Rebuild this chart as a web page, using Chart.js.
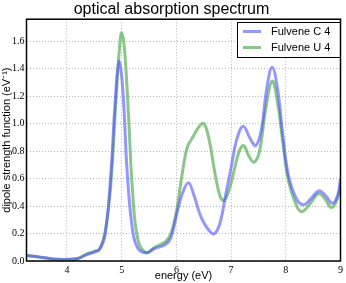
<!DOCTYPE html>
<html>
<head>
<meta charset="utf-8">
<script src="https://cdn.jsdelivr.net/npm/chart.js@4"></script>
<style>
  html, body { margin: 0; padding: 0; background: #fff; }
  #wrap { width: 346px; height: 283px; }
</style>
</head>
<body>
<div id="wrap"><canvas id="spectrum" width="346" height="283"></canvas></div>
<script>
// energies (eV) and dipole strength
const energyC = [3.25, 3.5, 3.75, 4.0, 4.2, 4.35, 4.5, 4.6, 4.7, 4.8, 4.88, 4.95, 5.02, 5.1, 5.2, 5.3, 5.45, 5.6, 5.8, 5.9,
  6.0, 6.1, 6.22, 6.32, 6.45, 6.6, 6.7, 6.8, 6.9, 7.0, 7.1, 7.22, 7.35, 7.45, 7.55, 7.65, 7.75, 7.85, 7.95, 8.05,
  8.2, 8.33, 8.45, 8.6, 8.72, 8.85, 8.95, 9.0];
const fulveneC = [0.040, 0.030, 0.015, 0.012, 0.018, 0.045, 0.065, 0.085, 0.20, 0.62, 1.15, 1.45, 1.25, 0.65, 0.22, 0.09, 0.06, 0.09, 0.12, 0.17,
  0.33, 0.48, 0.57, 0.48, 0.32, 0.22, 0.20, 0.28, 0.48, 0.68, 0.88, 0.98, 0.89, 0.84, 0.95, 1.25, 1.41, 1.25, 0.90, 0.62,
  0.45, 0.41, 0.45, 0.51, 0.48, 0.42, 0.48, 0.60];

const energyU = [3.25, 3.5, 3.75, 4.0, 4.2, 4.35, 4.5, 4.6, 4.7, 4.8, 4.9, 4.97, 5.0, 5.05, 5.12, 5.2, 5.3, 5.45, 5.6, 5.8, 5.9,
  6.0, 6.1, 6.2, 6.3, 6.4, 6.5, 6.6, 6.7, 6.8, 6.87, 6.95, 7.05, 7.15, 7.23, 7.33, 7.42, 7.52, 7.63, 7.75, 7.85, 7.95, 8.05,
  8.2, 8.3, 8.45, 8.6, 8.72, 8.83, 8.93, 9.0];
const fulveneU = [0.040, 0.028, 0.013, 0.010, 0.018, 0.05, 0.07, 0.09, 0.22, 0.55, 1.20, 1.60, 1.66, 1.55, 1.10, 0.50, 0.15, 0.06, 0.10, 0.14, 0.20,
  0.36, 0.62, 0.83, 0.90, 0.97, 1.00, 0.88, 0.65, 0.47, 0.44, 0.50, 0.65, 0.80, 0.84, 0.76, 0.72, 0.80, 1.10, 1.31, 1.15, 0.85, 0.58,
  0.40, 0.36, 0.42, 0.49, 0.45, 0.39, 0.44, 0.55];

const xTicks = [4, 5, 6, 7, 8, 9];
const yTicks = [0.0, 0.2, 0.4, 0.6, 0.8, 1.0, 1.2, 1.4, 1.6];
const seriesNames = ['Fulvene C 4', 'Fulvene U 4'];

const toPoints = (xs, ys) => xs.map((x, i) => ({ x: x, y: ys[i] }));

// legend box drawn like matplotlib's (framed, top right)
const boxLegend = {
  id: 'boxLegend',
  afterDraw(chart) {
    const c = chart.ctx;
    const x0 = 237, y0 = 22, w = 103, h = 35;
    c.save();
    c.fillStyle = '#fff';
    c.fillRect(x0, y0, w, h);
    c.strokeStyle = '#000';
    c.lineWidth = 1;
    c.strokeRect(x0 + 0.5, y0 + 0.5, w, h);
    chart.data.datasets.forEach((ds, i) => {
      const y = y0 + 9.5 + i * 16;
      c.strokeStyle = ds.borderColor;
      c.lineWidth = 3;
      c.beginPath();
      c.moveTo(x0 + 6, y);
      c.lineTo(x0 + 24, y);
      c.stroke();
      c.fillStyle = '#000';
      c.font = '11px "Liberation Sans", Arial, sans-serif';
      c.textBaseline = 'middle';
      c.fillText(ds.label, x0 + 34, y);
    });
    c.restore();
  }
};

const tickFont = { family: '"Liberation Serif", "DejaVu Serif", serif', size: 10 };
const gridOpts = { color: '#b8b8b8', drawTicks: false, lineWidth: 1 };
const borderOpts = { display: false, dash: [1, 2] };

const ctx = document.getElementById('spectrum');
new Chart(ctx, {
  type: 'line',
  data: {
    datasets: [{
      label: seriesNames[0],
      data: toPoints(energyC, fulveneC),
      borderColor: 'rgba(80, 80, 255, 0.6)',
      borderWidth: 3,
      pointRadius: 0,
      tension: 0.4,
      fill: false
    }, {
      label: seriesNames[1],
      data: toPoints(energyU, fulveneU),
      borderColor: 'rgba(60, 160, 60, 0.6)',
      borderWidth: 3,
      pointRadius: 0,
      tension: 0.4,
      fill: false
    }]
  },
  options: {
    responsive: false,
    animation: false,
    layout: { padding: { left: 0, right: 3, top: 0, bottom: 0 } },
    plugins: {
      legend: { display: false },
      tooltip: { enabled: false },
      title: {
        display: true,
        text: 'optical absorption spectrum',
        color: '#000',
        font: { family: '"Liberation Sans", Arial, sans-serif', size: 16, weight: 'normal' },
        padding: { top: 0, bottom: 0 }
      }
    },
    scales: {
      x: {
        type: 'linear',
        min: 3.26,
        max: 9,
        afterBuildTicks: (axis) => { axis.ticks = xTicks.map(v => ({ value: v })); },
        afterFit: (axis) => { axis.height = 22; },
        grid: gridOpts,
        border: borderOpts,
        ticks: {
          color: '#000',
          padding: 3,
          maxRotation: 0,
          font: tickFont,
          callback: (v) => String(v)
        },
        title: {
          display: true,
          text: 'energy (eV)',
          color: '#000',
          padding: { top: -2, bottom: 0 },
          font: { family: '"Liberation Sans", Arial, sans-serif', size: 11 }
        }
      },
      y: {
        min: 0,
        max: 1.76,
        afterBuildTicks: (axis) => { axis.ticks = yTicks.map(v => ({ value: v })); },
        afterFit: (axis) => { axis.width = 26.5; },
        grid: gridOpts,
        border: borderOpts,
        ticks: {
          color: '#000',
          padding: 2,
          font: tickFont,
          callback: (v) => v.toFixed(1)
        },
        title: {
          display: true,
          text: 'dipole strength function (eV\u207B\u00B9)',
          color: '#000',
          padding: { top: 0, bottom: 0 },
          font: { family: '"Liberation Sans", Arial, sans-serif', size: 11 }
        }
      }
    }
  },
  plugins: [boxLegend, {
    id: 'frame',
    afterDraw(chart) {
      const a = chart.chartArea, c = chart.ctx;
      c.save();
      c.strokeStyle = '#000';
      c.lineWidth = 1.5;
      c.strokeRect(a.left, a.top, a.right - a.left, a.bottom - a.top);
      c.restore();
    }
  }]
});
</script>
</body>
</html>
